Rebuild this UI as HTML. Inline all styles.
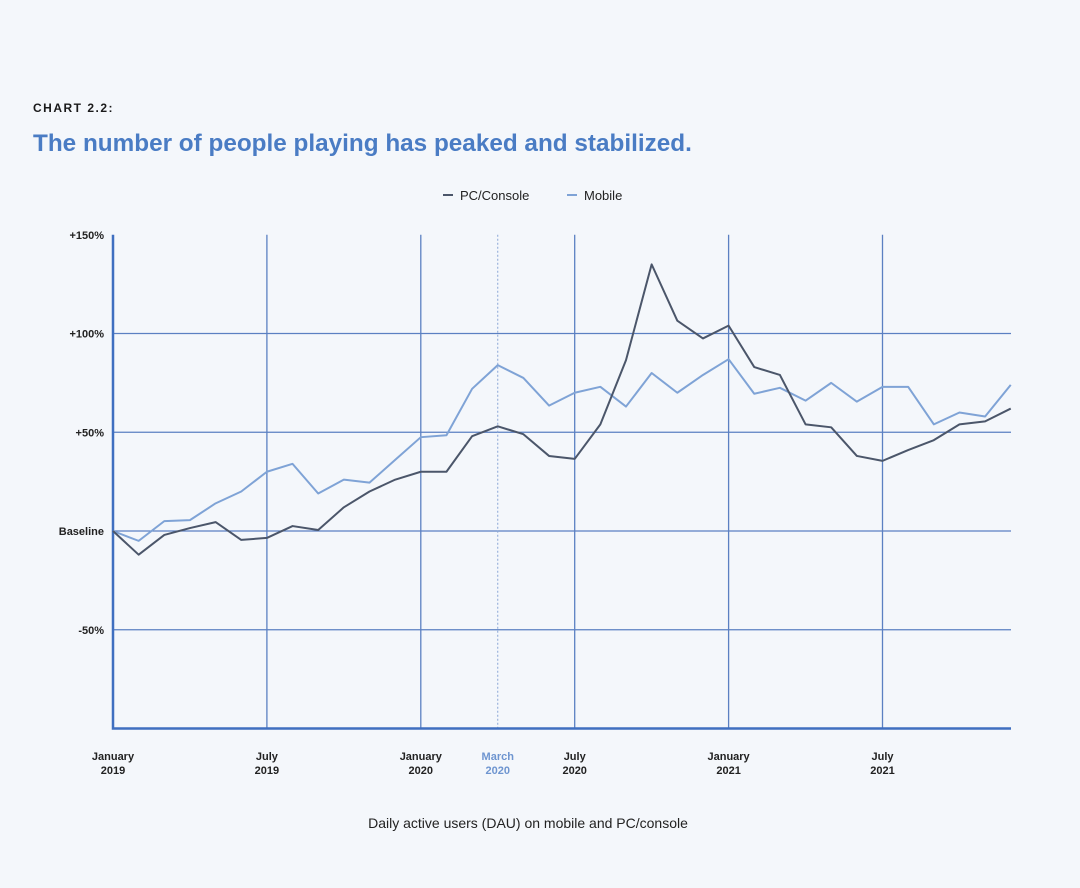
<!DOCTYPE html>
<html><head><meta charset="utf-8"><style>
body{margin:0;width:1080px;height:888px;background:#f4f7fb;font-family:"Liberation Sans",sans-serif;overflow:hidden}
svg{position:absolute;left:0;top:0}
</style></head><body>
<svg width="1080" height="888">
<text x="33" y="112" font-size="12" font-weight="bold" letter-spacing="1.5" fill="#1a1a1a">CHART 2.2:</text>
<text x="33" y="151" font-size="24.3" font-weight="bold" fill="#4a7cc4">The number of people playing has peaked and stabilized.</text>
<g font-size="13" fill="#222">
<line x1="443" y1="195" x2="453" y2="195" stroke="#4b566a" stroke-width="2"/>
<text x="460" y="200">PC/Console</text>
<line x1="567" y1="195" x2="577" y2="195" stroke="#7fa3d6" stroke-width="2"/>
<text x="584" y="200">Mobile</text>
</g>
<g id="grid"></g>
<g id="lines"></g>
<g id="labels"></g>
<text x="528" y="828" font-size="14" fill="#222" text-anchor="middle">Daily active users (DAU) on mobile and PC/console</text>
</svg>
<script>
const pcValues=[0,-12,-2,1.5,4.5,-4.5,-3.5,2.5,0.5,12,20,26,30,30,48,53,49,38,36.5,54,86.5,135,106.5,97.5,104,83,79,54,52.5,38,35.5,41,46,54,55.5,62];
const mobileValues=[0,-5,5,5.5,14,20,30,34,19,26,24.5,36,47.5,48.5,72,84,77.5,63.5,70,73,63,80,70,79,87,69.5,72.5,66,75,65.5,73,73,54,60,58,74];
const yTicks=[150,100,50,0,-50];
const yTickLabels=["+150%","+100%","+50%","Baseline","-50%"];
const xTickMonths=[0,6,12,15,18,24,30];
const xTickLabels=[["January","2019"],["July","2019"],["January","2020"],["March","2020"],["July","2020"],["January","2021"],["July","2021"]];
const NS="http://www.w3.org/2000/svg";
const X0=113,MW=25.65,Y0=531,PPU=98.75/50;
const xs=i=>X0+MW*i, ys=v=>Y0-v*PPU;
function mk(tag,attrs,parent){const e=document.createElementNS(NS,tag);for(const k in attrs)e.setAttribute(k,attrs[k]);parent.appendChild(e);return e;}
const grid=document.getElementById('grid'),lines=document.getElementById('lines'),labels=document.getElementById('labels');
yTicks.forEach((v,i)=>{
 if(v!==150){const l=mk('line',{x1:X0,x2:1011,y1:ys(v),y2:ys(v),stroke:'#5b80c2','stroke-width':1.3},grid);
 
 }
 const t=mk('text',{x:104,y:ys(v)+4,'font-size':11,'font-weight':'bold','text-anchor':'end',fill:'#222'},labels);
 t.textContent=yTickLabels[i];
 
 
});
xTickMonths.forEach((m,i)=>{
 const march=i===3;
 if(m>0){const l=mk('line',{x1:xs(m),x2:xs(m),y1:ys(150),y2:ys(-100),stroke:march?'#8aa6d6':'#5b80c2','stroke-width':march?1:1.3,'stroke-dasharray':march?'2,2':'none'},grid);
 
 }
 xTickLabels[i].forEach((s,j)=>{const t=mk('text',{x:xs(m),y:760+j*14,'font-size':11,'font-weight':'bold','text-anchor':'middle',fill:march?'#6e95d0':'#222'},labels);
 t.textContent=s;
 
 });
});
const ax=mk('path',{d:`M${X0},${ys(150)}V${ys(-100)}H1011`,fill:'none',stroke:'#3f6fc0','stroke-width':2.5},grid);


function series(vals,color,name){const p=mk('polyline',{points:vals.map((v,i)=>xs(i)+','+ys(v)).join(' '),fill:'none',stroke:color,'stroke-width':2,'stroke-linejoin':'round'},lines);
 
 }
series(mobileValues,'#7fa3d6','mobile-line');
series(pcValues,'#4b566a','pc-console-line');
</script>
</body></html>
